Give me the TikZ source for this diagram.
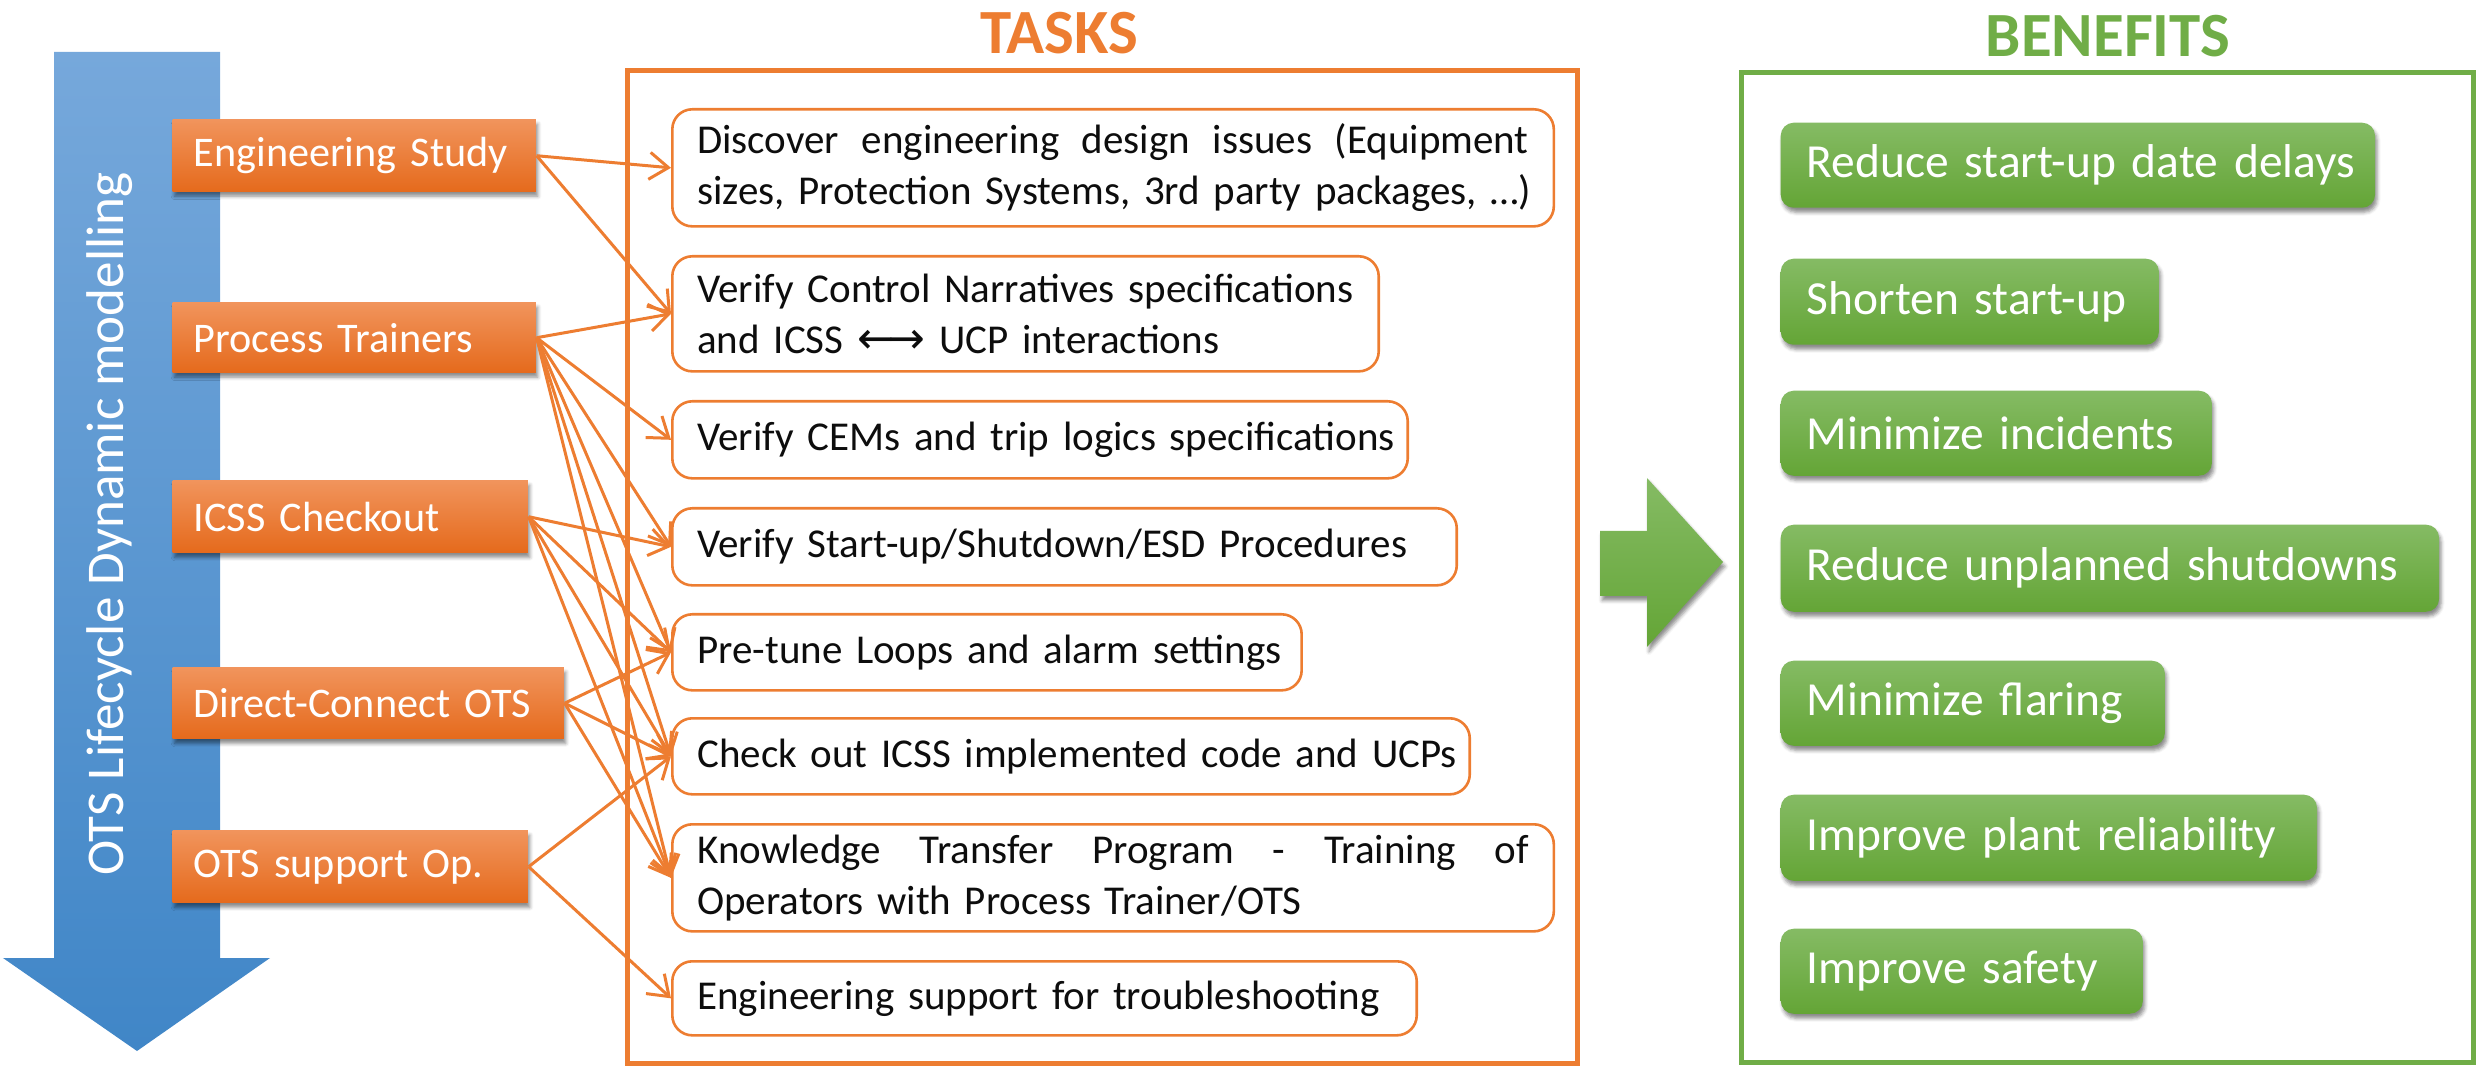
\documentclass[tikz,border=0pt]{standalone}
\usepackage{fontspec}
\setmainfont{Carlito}
\newfontfamily\symfont{DejaVu Sans}
\usetikzlibrary{arrows.meta,shadows.blur}

\definecolor{orLine}{RGB}{237,125,49}
\definecolor{orTop}{RGB}{241,148,92}
\definecolor{orBot}{RGB}{229,106,28}
\definecolor{grLine}{RGB}{112,173,71}
\definecolor{grTop}{RGB}{133,187,100}
\definecolor{grBot}{RGB}{100,165,54}
\definecolor{blTop}{RGB}{118,168,219}
\definecolor{blBot}{RGB}{64,134,199}
\definecolor{txt}{RGB}{13,13,13}

\tikzset{
  softshadow/.style={blur shadow={shadow xshift=0.02cm, shadow yshift=-0.045cm,
      shadow blur radius=0.035cm, shadow opacity=45}},
  phasebox/.style={anchor=north west, inner xsep=0.21cm, inner ysep=0pt,
      align=left, text=white, top color=orTop, bottom color=orBot,
      font=\fontsize{12pt}{14.5pt}\selectfont, softshadow},
  taskbox/.style={anchor=north west, inner xsep=0.25cm, inner ysep=0pt,
      align=left, text=txt, draw=orLine, line width=0.026cm, fill=white,
      rounded corners=0.2cm, font=\fontsize{11.66pt}{14.5pt}\selectfont},
  gainbox/.style={anchor=north west, inner xsep=0.26cm, inner ysep=0pt,
      align=left, text=white, top color=grTop, bottom color=grBot,
      rounded corners=0.13cm, font=\fontsize{13.5pt}{16pt}\selectfont, softshadow},
  link/.style={draw=orLine, line width=0.03cm,
      -{Straight Barb[length=0.19cm, width=0.27cm]}},
  heading/.style={anchor=base, font=\fontsize{17.9pt}{20pt}\selectfont\bfseries},
}

\begin{document}
\begin{tikzpicture}[x=0.01cm, y=-0.01cm]
\useasboundingbox (0,0) rectangle (2478,1067);

% lifecycle arrow
\shade[top color=blTop, bottom color=blBot]
  (54,52) -- (220,52) -- (220,958) -- (270,958) -- (137,1051) -- (3,958) -- (54,958) -- cycle;
\node[rotate=90, text=white, font=\fontsize{15.1pt}{18pt}\selectfont] (life) at (110,524)
  {OTS Lifecycle Dynamic modelling};

% frames and headings
\draw[orLine, line width=0.05cm] (627,71) rectangle (1577,1063);
\draw[grLine, line width=0.05cm] (1741,73) rectangle (2473,1062);
\node[heading, text=orLine] (tasks) at (1059,54) {TASKS};
\node[heading, text=grLine] (benefits) at (2108,57) {BENEFITS};

% phases
\node[phasebox, text width=3.21cm, minimum height=0.72cm] (es)   at (172,119) {\mbox{Engineering Study}};
\node[phasebox, text width=3.21cm, minimum height=0.70cm] (pt)   at (172,302) {\mbox{Process Trainers}};
\node[phasebox, text width=3.13cm, minimum height=0.72cm] (icss) at (172,480) {\mbox{ICSS Checkout}};
\node[phasebox, text width=3.49cm, minimum height=0.71cm] (dc)   at (172,667) {\mbox{Direct-Connect OTS}};
\node[phasebox, text width=3.13cm, minimum height=0.72cm] (ots)  at (172,830) {\mbox{OTS support Op.}};

% tasks (first lines of the two long items are set justified)
\node[taskbox, text width=8.31cm, minimum height=1.17cm] (t1) at (671,108)
  {\hbox to 8.31cm{Discover\hfill engineering\hfill design\hfill issues\hfill (Equipment}\\
   \mbox{sizes, Protection Systems, 3rd party packages, …)}};
\node[taskbox, text width=6.56cm, minimum height=1.15cm] (t2) at (671,255)
  {\mbox{Verify Control Narratives specifications}\\
   \mbox{and ICSS {\symfont\fontsize{12.5pt}{14.5pt}\selectfont ←\kern-0.12em→} UCP interactions}};
\node[taskbox, text width=6.85cm, minimum height=0.77cm] (t3) at (671,400)
  {\mbox{Verify CEMs and trip logics specifications}};
\node[taskbox, text width=7.34cm, minimum height=0.77cm] (t4) at (671,507)
  {\mbox{Verify Start-up/Shutdown/ESD Procedures}};
\node[taskbox, text width=5.79cm, minimum height=0.76cm] (t5) at (671,613)
  {\mbox{Pre-tune Loops and alarm settings}};
\node[taskbox, text width=7.47cm, minimum height=0.76cm] (t6) at (671,717)
  {\mbox{Check out ICSS implemented code and UCPs}};
\node[taskbox, text width=8.31cm, minimum height=1.07cm] (t7) at (671,823)
  {\hbox to 8.31cm{Knowledge\hfill Transfer\hfill Program\hfill -\hfill Training\hfill of}\\
   \mbox{Operators with Process Trainer/OTS}};
\node[taskbox, text width=6.94cm, minimum height=0.74cm] (t8) at (671,960)
  {\mbox{Engineering support for troubleshooting}};

% phase -> task links
\draw[link] (es.east) -- (t1.west);
\draw[link] (es.east) -- (t2.west);
\draw[link] (pt.east) -- (t2.west);
\draw[link] (pt.east) -- (t3.west);
\draw[link] (pt.east) -- (t4.west);
\draw[link] (pt.east) -- (t5.west);
\draw[link] (pt.east) -- (t6.west);
\draw[link] (pt.east) -- (t7.west);
\draw[link] (icss.east) -- (t4.west);
\draw[link] (icss.east) -- (t5.west);
\draw[link] (icss.east) -- (t6.west);
\draw[link] (icss.east) -- (t7.west);
\draw[link] (dc.east) -- (t5.west);
\draw[link] (dc.east) -- (t6.west);
\draw[link] (dc.east) -- (t7.west);
\draw[link] (ots.east) -- (t6.west);
\draw[link] (ots.east) -- (t8.west);

% transition arrow
\shade[top color=grTop, bottom color=grBot, softshadow]
  (1600,531) -- (1647,531) -- (1647,478) -- (1723,562) -- (1647,647) -- (1647,596) -- (1600,596) -- cycle;

% benefits
\node[gainbox, text width=5.42cm, minimum height=0.85cm] (b1) at (1780,122) {\mbox{Reduce start-up date delays}};
\node[gainbox, text width=3.26cm, minimum height=0.86cm] (b2) at (1780,258) {\mbox{Shorten start-up}};
\node[gainbox, text width=3.79cm, minimum height=0.85cm] (b3) at (1780,390) {\mbox{Minimize incidents}};
\node[gainbox, text width=6.06cm, minimum height=0.87cm] (b4) at (1780,524) {\mbox{Reduce unplanned shutdowns}};
\node[gainbox, text width=3.32cm, minimum height=0.85cm] (b5) at (1780,660) {\mbox{Minimize flaring}};
\node[gainbox, text width=4.84cm, minimum height=0.86cm] (b6) at (1780,794) {\mbox{Improve plant reliability}};
\node[gainbox, text width=3.10cm, minimum height=0.85cm] (b7) at (1780,928) {\mbox{Improve safety}};
\end{tikzpicture}
\end{document}
